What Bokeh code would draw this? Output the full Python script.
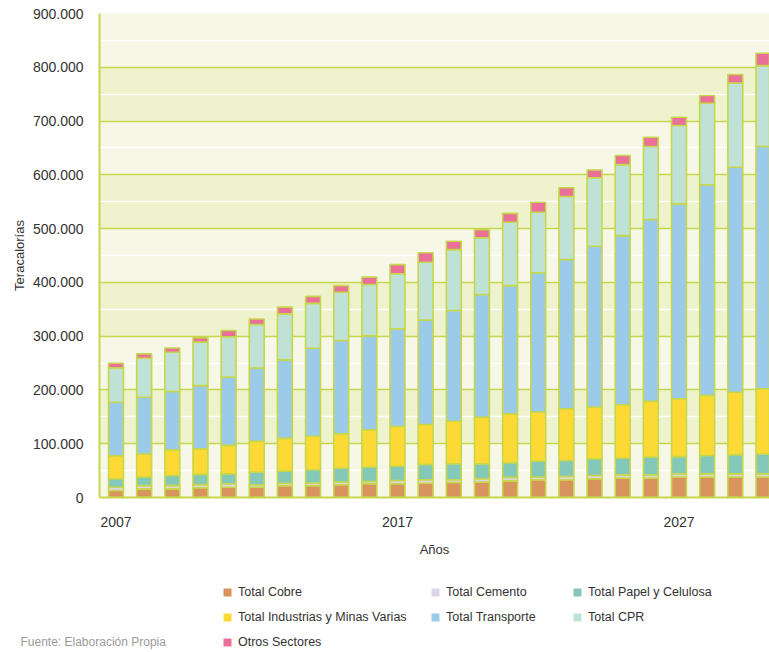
from bokeh.plotting import figure
from bokeh.layouts import column
from bokeh.models import FixedTicker, Legend, LegendItem, Label, Range1d, ColumnDataSource
from bokeh.embed import file_html
from bokeh.resources import INLINE

years = list(range(2007, 2031))

cobre = [13000, 16000, 16000, 18000, 19000, 19000, 22000, 22000, 23600, 25500, 25500, 26600,
         27900, 28500, 31000, 33000, 33000, 34800, 36000, 36000, 37800, 37800, 37800, 37800]
cemento = [6000, 6000, 6000, 6000, 6500, 4600, 4600, 5000, 4900, 4300, 6100, 6400,
           5100, 6300, 6500, 4800, 6000, 6200, 6000, 6000, 6200, 6200, 6200, 6200]
papel = [16000, 15800, 19000, 19000, 18500, 23400, 22400, 24500, 26000, 26600, 26400, 28400,
         29700, 27900, 27000, 29700, 29800, 31000, 31000, 33000, 32000, 34000, 35400, 37000]
industrias = [42500, 43200, 47500, 47500, 53000, 57700, 61000, 62500, 63900, 69400, 74000, 74300,
              79200, 86600, 91000, 91200, 96200, 96000, 99300, 104000, 107500, 111700, 116400, 121000]
transporte = [99500, 105500, 108500, 117500, 127000, 135800, 146000, 163600, 173600, 174800, 181700, 194300,
              205800, 228200, 238400, 259100, 277600, 299300, 314700, 338000, 362500, 391800, 418200, 450700]
cpr = [64000, 72500, 73000, 81000, 75000, 81200, 85500, 83400, 89800, 95400, 102300, 107500,
       113300, 105500, 118000, 112700, 117000, 127200, 132000, 135700, 145700, 151500, 156500, 150300]
otros = [8700, 8000, 8000, 8000, 11500, 10300, 12500, 13000, 12200, 13700, 17000, 17500,
         15600, 15000, 16500, 18500, 16300, 14500, 17000, 17300, 15300, 14500, 16100, 23000]

series_names = ["Total Cobre", "Total Cemento", "Total Papel y Celulosa",
                "Total Industrias y Minas Varias", "Total Transporte", "Total CPR", "Otros Sectores"]
series_keys = ["cobre", "cemento", "papel", "industrias", "transporte", "cpr", "otros"]
series_colors = ["#d8945c", "#ded4e8", "#83c8b9", "#fcd934", "#9bcbe8", "#c0e1d6", "#ea7099"]

y_tick_values = [0, 100000, 200000, 300000, 400000, 500000, 600000, 700000, 800000, 900000]
y_tick_labels = ["0", "100.000", "200.000", "300.000", "400.000", "500.000",
                 "600.000", "700.000", "800.000", "900.000"]
y_minor_values = [50000, 150000, 250000, 350000, 450000, 550000, 650000, 750000, 850000]
x_tick_values = [2007, 2017, 2027]
x_tick_labels = ["2007", "2017", "2027"]

FONT = "Liberation Sans"
GREEN = "#c6d74c"

source = ColumnDataSource(dict(year=years, cobre=cobre, cemento=cemento, papel=papel,
                               industrias=industrias, transporte=transporte, cpr=cpr, otros=otros))

p = figure(width=769, height=570, output_backend="svg", toolbar_location=None,
           x_range=Range1d(2006.414, 2030.215), y_range=Range1d(0, 900000),
           min_border_left=99, min_border_top=13, min_border_right=0, min_border_bottom=73)
p.frame_align = False
p.background_fill_color = "#f6f7e7"
p.border_fill_color = "white"
p.outline_line_color = None

renderers = p.vbar_stack(series_keys, x="year", width=0.53, source=source,
                         fill_color=series_colors, line_color=GREEN, line_width=1.6)

# axes
p.yaxis.ticker = FixedTicker(ticks=y_tick_values)
p.yaxis.major_label_overrides = {v: l for v, l in zip(y_tick_values, y_tick_labels)}
p.yaxis.axis_label = "Teracalorías"
p.xaxis.ticker = FixedTicker(ticks=x_tick_values)
p.xaxis.major_label_overrides = {v: l for v, l in zip(x_tick_values, x_tick_labels)}
p.xaxis.axis_label = "Años"

for ax in (p.xaxis, p.yaxis):
    ax.axis_line_color = GREEN
    ax.axis_line_width = 2
    ax.major_tick_line_color = None
    ax.minor_tick_line_color = None
    ax.major_label_text_font = FONT
    ax.major_label_text_font_size = "14px"
    ax.major_label_text_color = "#333333"
    ax.axis_label_text_font = FONT
    ax.axis_label_text_font_style = "normal"
    ax.axis_label_text_color = "#333333"

p.yaxis.axis_label_text_font_size = "13px"
p.xaxis.axis_label_text_font_size = "13px"
p.yaxis.major_label_standoff = 10
p.xaxis.major_label_standoff = 13
p.yaxis.axis_label_standoff = 3
p.xaxis.axis_label_standoff = 12

# grid: green lines every 100.000 (none on the top edge), white lines in between
p.xgrid.grid_line_color = None
p.ygrid.ticker = FixedTicker(ticks=y_tick_values[:-1], minor_ticks=y_minor_values)
p.ygrid.grid_line_color = GREEN
p.ygrid.grid_line_width = 1.6
p.ygrid.minor_grid_line_color = "white"
p.ygrid.minor_grid_line_width = 1.6
p.ygrid.band_fill_color = "#eef2cd"
p.ygrid.band_fill_alpha = 1.0

# bottom strip with the legend and the source note (pixel-like ranges)
q = figure(width=769, height=82, output_backend="svg", toolbar_location=None,
           x_range=Range1d(0, 769), y_range=Range1d(0, 82),
           min_border=0, min_border_left=0, min_border_right=0, min_border_top=0, min_border_bottom=0,
           x_axis_type=None, y_axis_type=None)
q.frame_align = False
q.grid.visible = False
q.outline_line_color = None
q.background_fill_color = "white"
q.border_fill_color = "white"

# legend proxies: same data, drawn outside q's ranges, no outline
proxies = [q.vbar(x="year", top=k, width=0.5, source=source, fill_color=c, line_color=None)
           for k, c in zip(series_keys, series_colors)]
columns = [[0, 3, 6], [1, 4], [2, 5]]
col_x = [222, 430, 572]
for idxs, cx in zip(columns, col_x):
    n = len(idxs)
    h = n * 20 + (n - 1) * 5
    leg = Legend(items=[LegendItem(label=series_names[i], renderers=[proxies[i]]) for i in idxs],
                 location=(cx, 82 - 12 - h), orientation="vertical",
                 glyph_width=10, glyph_height=10, label_height=20, label_standoff=6,
                 spacing=5, padding=0, margin=0, border_line_color=None,
                 background_fill_alpha=0, label_text_font=FONT, label_text_font_size="12.5px",
                 label_text_color="#333333")
    q.add_layout(leg, "center")

q.add_layout(Label(x=20, y=11, x_units="screen", y_units="screen",
                   text="Fuente: Elaboración Propia", text_font=FONT, text_font_size="12px",
                   text_color="#9a9a9a", text_baseline="middle"))

layout = column(p, q, spacing=0)
open("out.html", "w").write(file_html(layout, INLINE))
